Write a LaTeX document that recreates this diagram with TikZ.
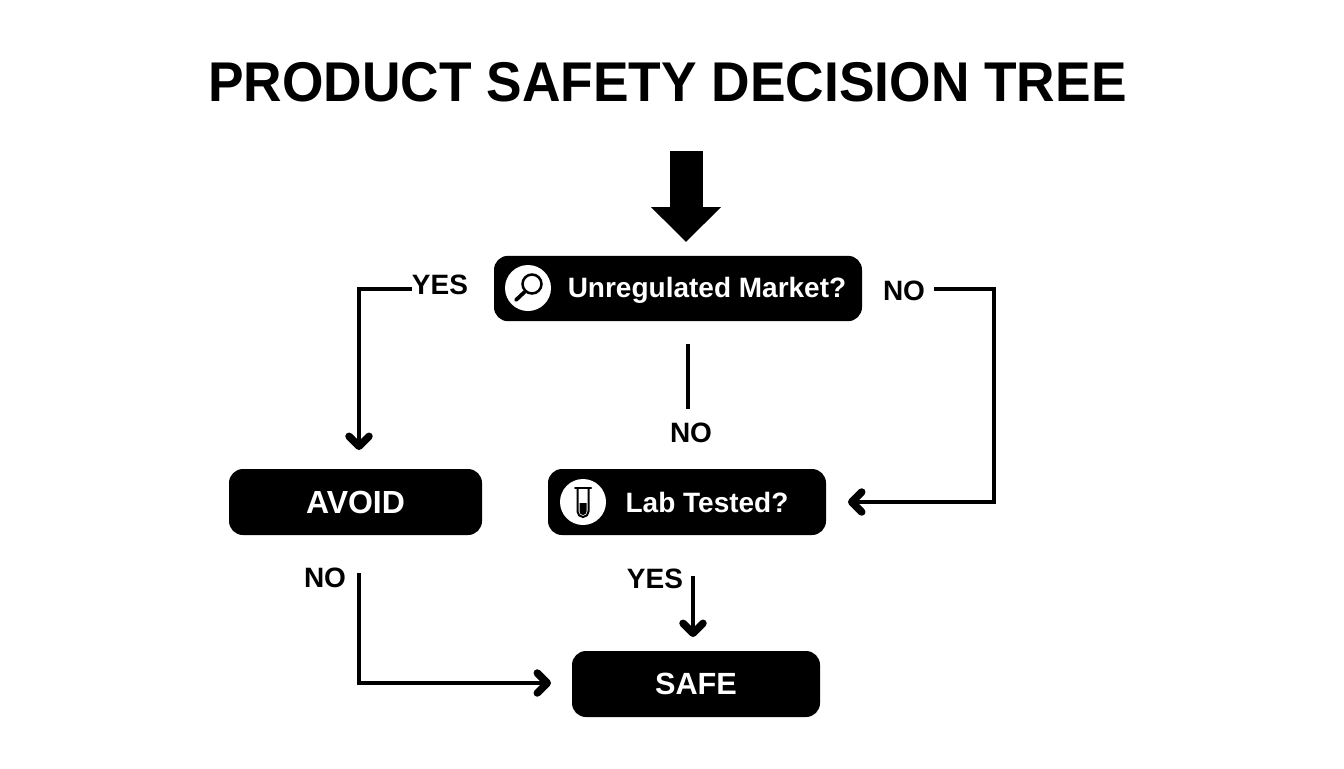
\documentclass[tikz,border=0pt]{standalone}
\usepackage{fontspec}
\setmainfont{Liberation Sans}
\usetikzlibrary{arrows.meta}
\newcommand{\fsz}[1]{\fontsize{#1}{#1}\selectfont\bfseries}
\tikzset{
  box/.style={fill=black,rounded corners=10.5pt,inner sep=0pt,text=white},
  lbl/.style={inner sep=0pt,text=black,font=\fsz{21}},
  conn/.style={draw=black,line width=3.4pt,line join=miter,-{Straight Barb[round,length=7.5pt,width=15pt,line width=5.6pt]}},
  plain/.style={draw=black,line width=3.4pt},
  disc/.style={circle,fill=white,inner sep=0pt,minimum size=34.5pt},
}
\begin{document}
\begin{tikzpicture}[x=0.75pt,y=-0.75pt]
\useasboundingbox (0,0) rectangle (1344,768);
\node[inner sep=0pt,font=\fsz{42}] (title) at (667.5,82) {\scalebox{0.952}[1]{PRODUCT SAFETY DECISION TREE}};

% boxes
\node[box,minimum width=276pt,minimum height=49pt] (unreg) at (678,288.5) {};
\node[box,minimum width=208.5pt,minimum height=49.5pt] (lab) at (687,502) {};
\node[box,minimum width=189.75pt,minimum height=49.5pt,font=\fsz{24}] (avoid) at (355.5,502) {AVOID};
\node[box,minimum width=186pt,minimum height=49.5pt,font=\fsz{23}] (safe) at (696,684) {SAFE};
\node[inner sep=0pt,text=white,font=\fsz{21}] (unregt) at (707,290) {Unregulated Market?};
\node[inner sep=0pt,text=white,font=\fsz{21}] (labt) at (707,502) {Lab Tested?};

% icons
\node[disc] (d1) at (528,288) {};
\draw[black,line width=1.9pt] (532,284) circle[radius=9.5];
\draw[black,line width=2.8pt,line cap=round] (524.5,292) -- (516,300);
\node[disc] (d2) at (583,502) {};
\draw[black,line width=1.5pt,line cap=round] (575,488) -- (591,488);
\draw[black,line width=1.5pt] (577.5,488) -- (577.5,511.5) arc[start angle=180,end angle=0,radius=5.5] -- (588.5,488);
\fill[black] (579.5,503) -- (586.5,503) -- (586.5,511.5) arc[start angle=0,end angle=180,radius=3.5] -- cycle;

% labels
\node[lbl] (lyes1) at (440,285) {YES};
\node[lbl] (lno1) at (904,291) {NO};
\node[lbl] (lno2) at (691,433) {NO};
\node[lbl] (lno3) at (325,578) {NO};
\node[lbl] (lyes2) at (655,579) {YES};

% connector ends
\coordinate (bigA) at (686,151);
\coordinate (bigB) at (686,242);
\coordinate (a1) at (412,289);
\coordinate (a2) at (359,289);
\coordinate (a3) at (359,450);
\coordinate (b1) at (934,289);
\coordinate (b2) at (994,289);
\coordinate (b3) at (994,502);
\coordinate (b4) at (848,502);
\coordinate (c1) at (688,344);
\coordinate (c2) at (688,409);
\coordinate (e1) at (359,573);
\coordinate (e2) at (359,683);
\coordinate (e3) at (551,683);
\coordinate (f1) at (693,576);
\coordinate (f2) at (693,637);

\draw[black,line width=24.75pt,-{Triangle[length=26.25pt 0 0,width=51pt 0 0]}] (bigA) -- (bigB);
\draw[conn] (a1) -- (a2) -- (a3);
\draw[conn] (b1) -- (b2) -- (b3) -- (b4);
\draw[plain] (c1) -- (c2);
\draw[conn] (e1) -- (e2) -- (e3);
\draw[conn] (f1) -- (f2);
\end{tikzpicture}
\end{document}
